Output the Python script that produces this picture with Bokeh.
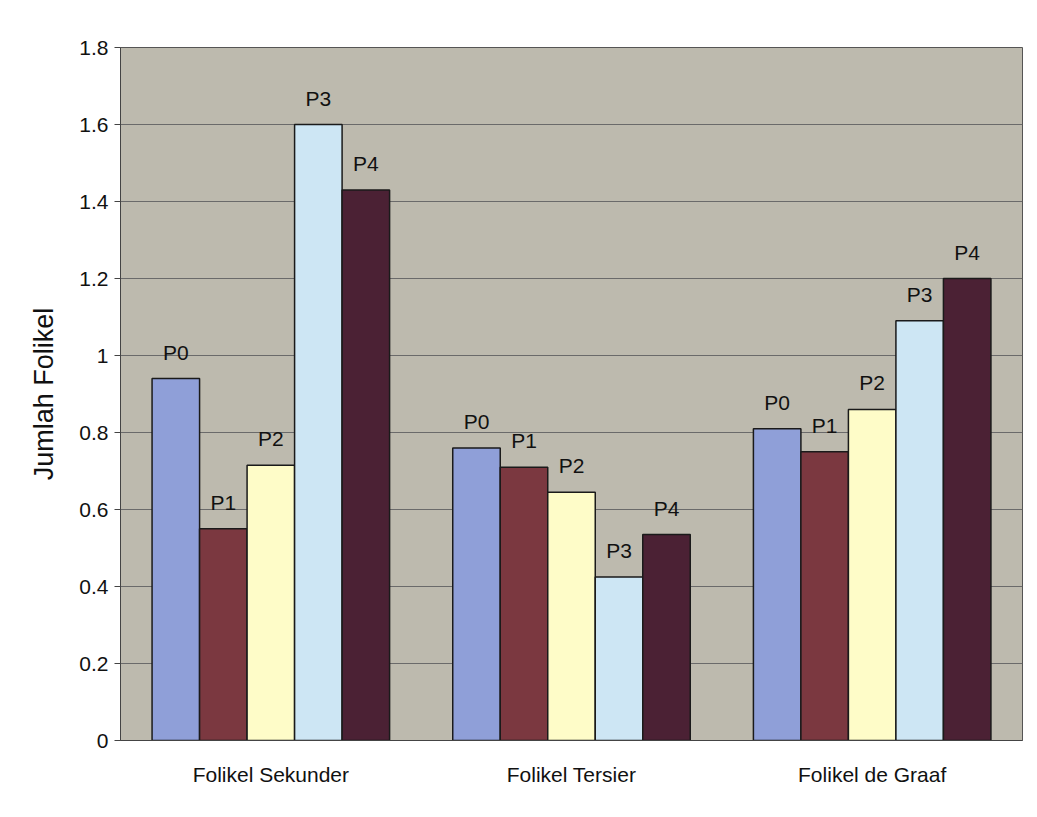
from bokeh.plotting import figure
from bokeh.models import ColumnDataSource, FixedTicker, Range1d, FactorRange
from bokeh.transform import dodge
from bokeh.core.properties import value
from bokeh.embed import file_html
from bokeh.resources import INLINE

categories = ["Folikel Sekunder", "Folikel Tersier", "Folikel de Graaf"]
series = ["P0", "P1", "P2", "P3", "P4"]
P0 = [0.94, 0.76, 0.81]
P1 = [0.55, 0.71, 0.75]
P2 = [0.715, 0.645, 0.86]
P3 = [1.60, 0.425, 1.09]
P4 = [1.43, 0.535, 1.20]
colors = ["#8f9fd8", "#7b3840", "#fefcc8", "#cde6f4", "#4b2134"]
y_ticks = [0, 0.2, 0.4, 0.6, 0.8, 1.0, 1.2, 1.4, 1.6, 1.8]
y_tick_labels = ["0", "0.2", "0.4", "0.6", "0.8", "1", "1.2", "1.4", "1.6", "1.8"]

data = {"cat": categories, "P0": P0, "P1": P1, "P2": P2, "P3": P3, "P4": P4}
src = ColumnDataSource(data)

p = figure(width=1037, height=817, x_range=FactorRange(*categories, range_padding=0),
           y_range=Range1d(0, 1.8), output_backend="svg", toolbar_location=None,
           min_border_left=120, min_border_right=15, min_border_top=47, min_border_bottom=77)
p.x_range.factor_padding = 0
p.background_fill_color = "#bdbaae"
p.border_fill_color = "white"
p.outline_line_color = "#555555"

bw = 0.158
offsets = [-2 * bw, -bw, 0, bw, 2 * bw]
for s, off, c in zip(series, offsets, colors):
    x = dodge("cat", off, range=p.x_range)
    p.vbar(x=x, top=s, width=bw, source=src, fill_color=c, line_color="#1a1a1a", line_width=1.5)
    p.text(x=x, y=s, text=value(s), source=src, text_align="center", text_baseline="bottom",
           y_offset=-15, text_font=value("Liberation Sans"), text_font_size="21px", text_color="#111111")

p.yaxis.ticker = FixedTicker(ticks=y_ticks)
p.yaxis.major_label_overrides = {t: l for t, l in zip(y_ticks, y_tick_labels)}
p.yaxis.axis_label = "Jumlah Folikel"
p.yaxis.axis_label_text_font = "Liberation Sans"
p.yaxis.axis_label_text_font_size = "27px"
p.yaxis.axis_label_text_font_style = "normal"
p.yaxis.axis_label_text_color = "#111111"
p.yaxis.axis_label_standoff = 17
p.yaxis.major_label_text_font = "Liberation Sans"
p.yaxis.major_label_text_font_size = "21px"
p.yaxis.major_label_text_color = "#111111"
p.yaxis.minor_tick_line_color = None
p.yaxis.major_tick_out = 6
p.yaxis.major_tick_in = 0
p.yaxis.major_label_standoff = 6
p.yaxis.axis_line_color = "#444444"
p.yaxis.major_tick_line_color = "#444444"

p.xaxis.major_label_text_font = "Liberation Sans"
p.xaxis.major_label_text_font_size = "21px"
p.xaxis.major_label_text_color = "#111111"
p.xaxis.major_tick_line_color = None
p.xaxis.major_label_standoff = 16
p.xaxis.axis_line_color = "#444444"

p.xgrid.grid_line_color = None
p.ygrid.grid_line_color = "#6a6a6a"
p.ygrid.grid_line_width = 1

open("out.html", "w").write(file_html(p, INLINE))
